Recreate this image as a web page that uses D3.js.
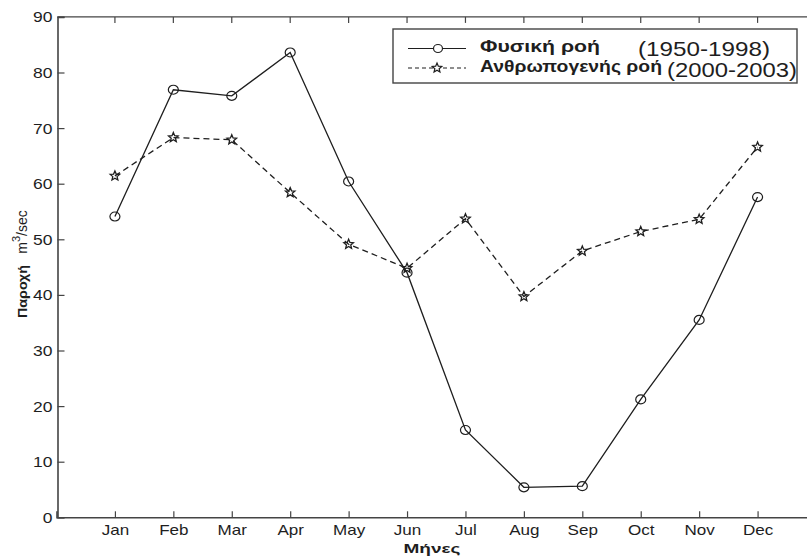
<!DOCTYPE html>
<html>
<head>
<meta charset="utf-8">
<script src="https://cdn.jsdelivr.net/npm/d3@7"></script>
<style>
  html, body { margin: 0; padding: 0; background: #fff; }
  svg { display: block; font-family: "Liberation Sans", Arial, sans-serif; }
</style>
</head>
<body>
<svg id="chart" width="807" height="560"></svg>
<script>
const months = ["Jan","Feb","Mar","Apr","May","Jun","Jul","Aug","Sep","Oct","Nov","Dec"];
const natural = [54.1, 76.9, 75.8, 83.6, 60.4, 44.0, 15.7, 5.4, 5.6, 21.2, 35.5, 57.6];
const anthropogenic = [61.4, 68.3, 67.9, 58.4, 49.1, 44.8, 53.7, 39.7, 47.9, 51.4, 53.6, 66.6];
const yTicks = [0, 10, 20, 30, 40, 50, 60, 70, 80, 90];
const legendNames = ["Φυσική ροή", "Ανθρωπογενής ροή"];
const legendPeriods = ["(1950-1998)", "(2000-2003)"];

(function () {
const svg = d3.select("#chart");
const pLeft = 57.5, pRight = 816, pTop = 16.9, pBottom = 517.3;
const ink = "#1e1e1e", axisCol = "#444";

const x = d3.scaleLinear().domain([0, 13]).range([pLeft - 1, pRight]);
const y = d3.scaleLinear().domain([0, 90]).range([pBottom, pTop]);
const xi = i => x(i + 1);

// top frame line
svg.append("line").attr("x1", pLeft).attr("x2", pRight).attr("y1", pTop).attr("y2", pTop)
  .attr("stroke", axisCol).attr("stroke-width", 1.4);

// top ticks
svg.append("g").selectAll("line").data(months).join("line")
  .attr("x1", (d, i) => xi(i)).attr("x2", (d, i) => xi(i))
  .attr("y1", pTop).attr("y2", pTop + 6).attr("stroke", axisCol).attr("stroke-width", 1.2);

// left axis
const yAxis = d3.axisLeft(y).tickValues(yTicks).tickSize(-7).tickPadding(0).tickFormat(d3.format("d"));
const gy = svg.append("g").attr("transform", `translate(${pLeft},0)`).call(yAxis);
gy.select(".domain").attr("stroke", axisCol).attr("stroke-width", 1.6);
gy.selectAll(".tick line").attr("stroke", axisCol).attr("stroke-width", 1.2);
gy.selectAll(".tick text")
  .attr("x", 0).attr("dy", "0.35em")
  .attr("transform", "translate(-5,0) scale(1.25,1)")
  .attr("text-anchor", "end")
  .attr("font-size", 14).attr("fill", ink)
  .attr("font-family", "Liberation Sans, Arial, sans-serif");

// bottom axis
const xAxis = d3.axisBottom(x).tickValues(d3.range(1, 13)).tickSize(-6)
  .tickFormat(d => months[d - 1]);
const gx = svg.append("g").attr("transform", `translate(0,${pBottom})`).call(xAxis);
gx.select(".domain").attr("stroke", axisCol).attr("stroke-width", 1.6);
gx.selectAll(".tick line").attr("stroke", axisCol).attr("stroke-width", 1.2);
gx.selectAll(".tick text")
  .attr("y", 0).attr("dy", 0)
  .attr("transform", "translate(0,18) scale(1.22,1)")
  .attr("font-size", 14).attr("fill", ink)
  .attr("font-family", "Liberation Sans, Arial, sans-serif");

// star path generator
function starPath(r) {
  const pts = [];
  for (let k = 0; k < 10; k++) {
    const rr = k % 2 === 0 ? r : r * 0.45;
    const a = -Math.PI / 2 + k * Math.PI / 5;
    pts.push([rr * Math.cos(a), rr * Math.sin(a)]);
  }
  return "M" + pts.map(p => p.join(",")).join("L") + "Z";
}
const star = starPath(5);

// series lines
const line = d3.line().x((d, i) => xi(i)).y(d => y(d));
svg.append("path").datum(anthropogenic).attr("d", line)
  .attr("fill", "none").attr("stroke", ink).attr("stroke-width", 1.3)
  .attr("stroke-dasharray", "6,4");
svg.append("path").datum(natural).attr("d", line)
  .attr("fill", "none").attr("stroke", ink).attr("stroke-width", 1.3);

svg.append("g").selectAll("path").data(anthropogenic).join("path")
  .attr("d", star).attr("transform", (d, i) => `translate(${xi(i)},${y(d)})`)
  .attr("fill", "none").attr("stroke", ink).attr("stroke-width", 1.3);
svg.append("g").selectAll("ellipse").data(natural).join("ellipse")
  .attr("cx", (d, i) => xi(i)).attr("cy", d => y(d)).attr("rx", 5).attr("ry", 4.5)
  .attr("fill", "none").attr("stroke", ink).attr("stroke-width", 1.2);

// y axis label: two parts
svg.append("text").attr("transform", "translate(27,291.5) rotate(-90)")
  .attr("text-anchor", "middle").attr("font-size", 13).attr("font-weight", "bold").attr("fill", ink)
  .attr("textLength", 53).attr("lengthAdjust", "spacingAndGlyphs")
  .text("Παροχή");
svg.append("text").attr("transform", "translate(27,232) rotate(-90)")
  .attr("text-anchor", "middle").attr("font-size", 14).attr("fill", ink)
  .html('m<tspan dy="-7" font-size="11">3</tspan><tspan dy="7">/sec</tspan>');

svg.append("text").attr("x", 432).attr("y", 553)
  .attr("text-anchor", "middle").attr("font-size", 13).attr("font-weight", "bold").attr("fill", ink)
  .attr("textLength", 57).attr("lengthAdjust", "spacingAndGlyphs")
  .text("Μήνες");

// legend
const lg = svg.append("g");
lg.append("rect").attr("x", 393).attr("y", 29).attr("width", 404).attr("height", 54)
  .attr("fill", "#fff").attr("stroke", axisCol).attr("stroke-width", 1.4);
const legendRows = [
  { y: 48.5, dash: null, marker: "circle", name: legendNames[0], period: legendPeriods[0], nameLen: 120, px: 638, pLen: 132, nb: 51.5, pb: 56 },
  { y: 68, dash: "4,3", marker: "star", name: legendNames[1], period: legendPeriods[1], nameLen: 182, px: 667, pLen: 130, nb: 71.5, pb: 76.5 }
];
legendRows.forEach(r => {
  lg.append("line").attr("x1", 408).attr("x2", 466).attr("y1", r.y).attr("y2", r.y)
    .attr("stroke", ink).attr("stroke-width", 1.2).attr("stroke-dasharray", r.dash);
  if (r.marker === "circle") {
    lg.append("ellipse").attr("cx", 438).attr("cy", r.y).attr("rx", 4.5).attr("ry", 4)
      .attr("fill", "#fff").attr("stroke", ink).attr("stroke-width", 1.2);
  } else {
    lg.append("path").attr("d", star).attr("transform", `translate(437,${r.y})`)
      .attr("fill", "#fff").attr("stroke", ink).attr("stroke-width", 1.2);
  }
  lg.append("text").attr("x", 480).attr("y", r.nb).attr("font-size", 17).attr("font-weight", "bold")
    .attr("fill", ink).attr("textLength", r.nameLen).attr("lengthAdjust", "spacingAndGlyphs").text(r.name);
  lg.append("text").attr("x", r.px).attr("y", r.pb).attr("font-size", 21)
    .attr("fill", ink).attr("textLength", r.pLen).attr("lengthAdjust", "spacingAndGlyphs").text(r.period);
});
})();
</script>
</body>
</html>
